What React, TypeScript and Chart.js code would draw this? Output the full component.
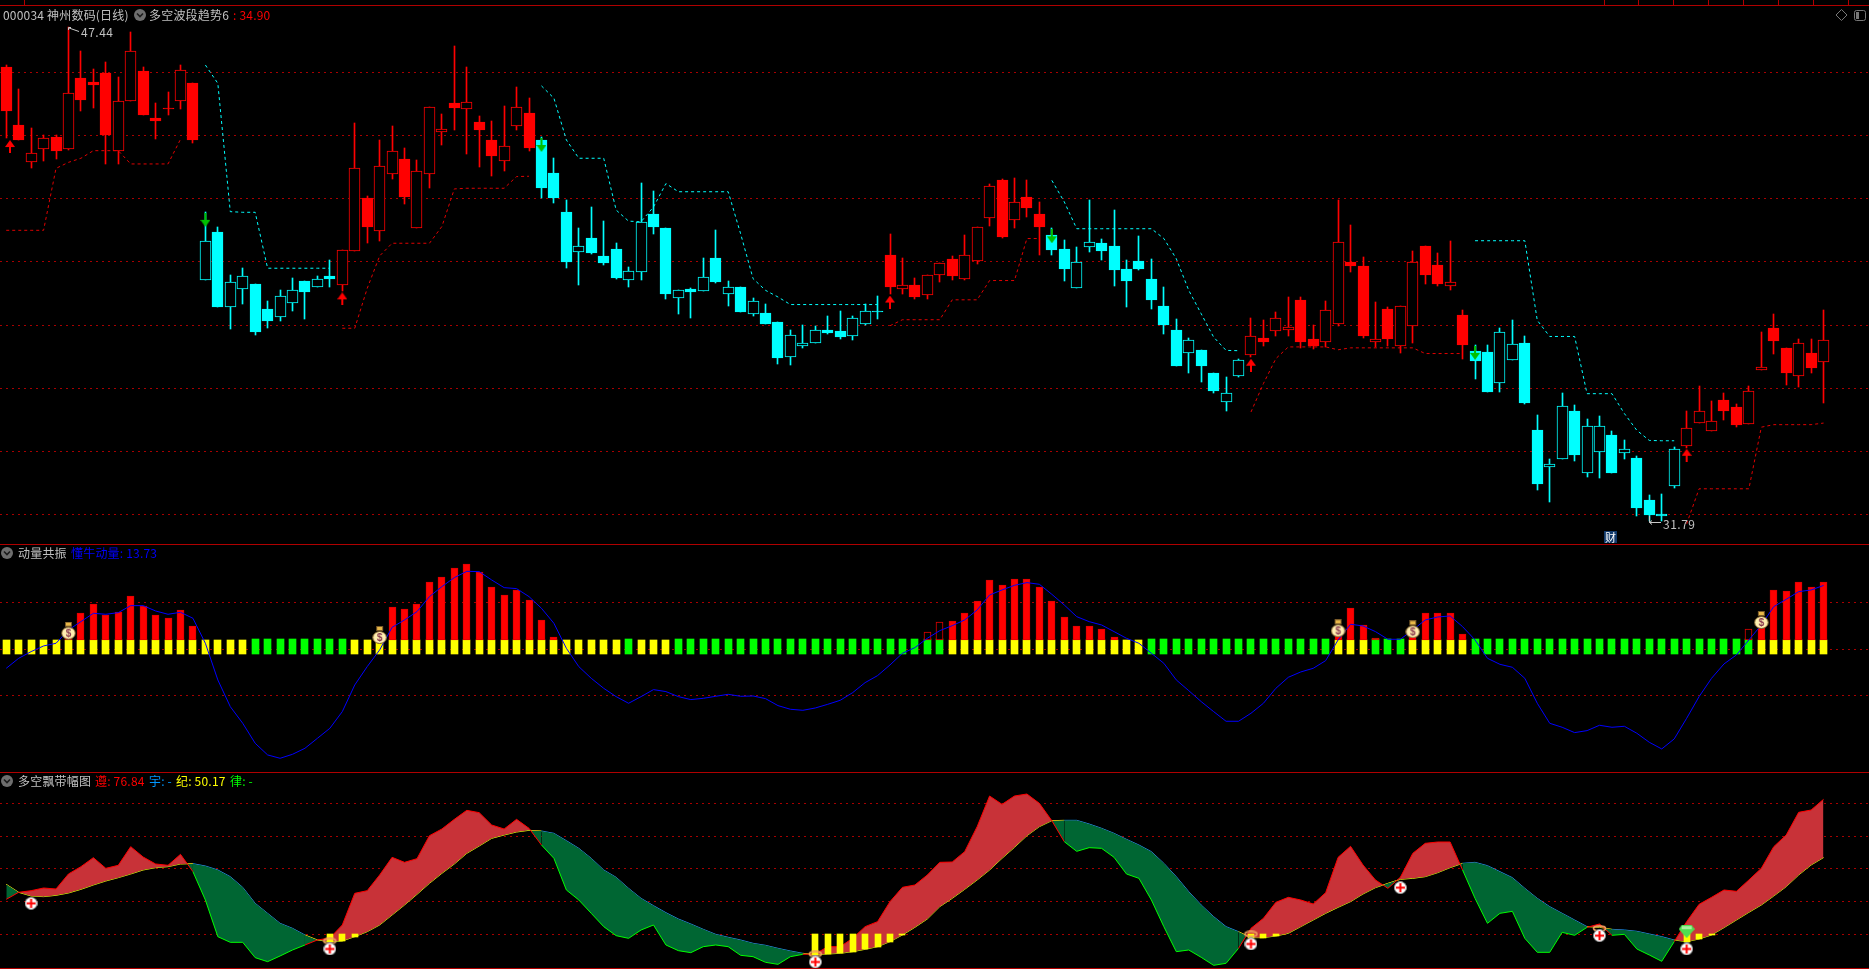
import React, { useEffect, useRef } from "react";
import { Chart, registerables } from "chart.js";

Chart.register(...registerables);

// ---------- price panel ----------
const highs = [46.23,45.47,44.23,44.02,44.02,47.44,46.68,46.09,46.33,45.85,47.28,46.17,45.03,45.38,46.23,45.66,41.58,41.10,39.59,39.81,39.30,38.76,39.11,39.49,39.40,39.55,40.06,40.37,44.40,42.09,43.86,44.30,43.61,43.23,44.89,44.68,46.83,46.17,44.62,44.46,44.93,45.54,45.19,43.95,43.29,41.96,41.07,41.74,41.30,40.60,39.83,42.49,42.23,41.06,39.10,39.16,40.11,41.00,39.38,39.19,38.85,38.66,38.09,37.86,37.99,37.96,38.28,38.44,38.28,38.66,38.91,40.87,40.11,39.48,39.57,39.95,40.18,40.84,41.09,42.45,42.61,42.64,42.58,41.88,41.06,40.68,40.46,41.95,40.71,41.63,40.05,40.81,40.08,39.19,38.18,37.58,37.20,36.47,36.35,36.92,38.21,38.15,38.43,38.88,38.88,37.99,38.75,41.95,41.16,40.14,38.72,38.56,38.62,40.33,40.49,40.27,40.65,38.47,37.36,37.36,37.90,38.15,37.64,35.14,33.75,35.84,35.46,35.02,35.11,34.64,34.35,33.85,32.61,32.67,34.13,35.27,36.06,35.59,35.84,35.49,36.06,37.77,38.34,37.26,37.55,37.55,38.47];
const lows = [43.91,43.87,42.98,43.19,43.26,43.54,44.76,44.88,43.11,43.11,45.10,44.65,43.89,44.65,44.84,43.76,39.44,38.58,37.89,38.68,37.70,37.91,38.13,38.46,38.19,39.19,39.21,39.08,40.36,40.60,40.66,42.62,41.83,41.08,42.34,43.70,44.18,43.42,43.00,42.72,42.88,44.18,43.51,42.02,41.86,39.81,39.27,40.25,39.90,39.46,39.19,39.42,40.87,38.82,38.34,38.21,39.07,39.32,38.62,38.40,38.28,38.02,36.76,36.73,37.26,37.42,37.71,37.55,37.52,37.99,38.18,38.97,38.97,38.82,38.82,39.35,39.42,39.42,39.92,41.13,40.75,41.06,41.41,40.21,40.21,39.38,39.16,40.30,40.05,39.23,38.56,39.73,38.50,37.71,36.69,36.50,36.19,35.84,35.27,36.35,36.99,37.33,37.67,37.67,37.26,37.23,37.30,37.96,39.67,37.58,37.30,37.33,37.11,37.42,39.29,39.23,39.10,36.92,36.28,35.87,35.87,36.88,35.49,32.77,32.39,33.75,33.69,33.18,33.15,33.31,33.75,31.95,31.79,31.80,32.83,34.10,34.89,34.64,34.99,34.76,34.86,36.57,37.07,36.12,36.03,36.47,35.55];
const opens = [46.17,44.33,43.17,43.58,43.95,43.58,45.82,45.69,45.98,43.50,45.10,46.04,44.55,44.87,45.10,45.66,39.44,40.95,38.58,39.15,39.30,38.51,38.27,38.71,39.40,39.19,39.55,39.28,40.36,42.02,40.99,42.79,43.26,41.08,42.79,44.12,45.03,44.85,44.43,43.86,43.19,44.30,44.71,43.86,42.81,41.58,40.31,40.76,40.19,40.41,39.42,39.67,41.51,41.06,38.85,39.13,39.07,40.11,38.97,39.19,38.34,38.37,38.09,36.98,37.33,37.42,37.83,37.80,37.64,38.02,38.44,40.21,39.13,39.26,38.94,39.57,40.08,39.45,40.02,41.38,42.58,41.32,42.04,41.51,40.84,40.40,39.16,40.46,40.59,40.49,39.76,40.02,39.45,38.59,37.86,37.11,37.20,36.47,35.56,36.38,37.04,37.58,37.80,37.83,38.78,37.55,37.45,38.05,39.99,39.86,37.45,38.50,37.33,37.96,40.49,39.89,39.23,38.31,37.17,37.14,36.16,36.88,37.42,34.67,33.50,33.75,35.27,33.31,33.97,34.51,33.94,33.78,32.48,32.01,32.90,34.19,34.89,34.64,35.62,35.40,34.86,36.57,37.90,37.26,36.38,37.11,36.82];
const closes = [44.76,43.87,43.44,43.91,43.51,45.34,45.13,45.60,44.02,45.08,46.66,44.65,44.46,44.84,46.06,43.87,40.65,38.58,39.35,39.54,37.78,38.13,38.91,39.10,39.05,39.45,39.46,40.37,42.96,41.10,43.03,43.50,42.05,42.87,44.89,44.21,44.87,45.05,44.18,43.35,43.66,44.89,43.61,42.34,42.02,40.00,40.49,40.28,39.97,39.49,39.70,41.25,41.09,38.97,39.10,39.04,39.51,39.35,39.19,38.40,38.75,38.05,36.95,37.68,37.42,37.83,37.74,37.61,38.21,38.44,38.40,39.19,39.26,38.88,39.57,39.95,39.54,40.21,41.09,42.39,40.78,41.88,41.69,41.09,40.37,39.76,39.99,40.62,40.33,39.73,39.38,39.76,38.78,37.99,36.69,37.52,36.69,35.90,35.84,36.88,37.67,37.45,38.21,37.93,37.45,37.33,38.47,40.62,39.86,37.67,37.55,37.55,38.62,39.99,39.57,39.29,39.35,37.36,36.85,35.87,37.77,37.39,35.55,32.96,33.59,35.43,33.88,34.80,34.80,33.31,34.07,32.20,31.98,31.96,34.07,34.73,35.27,34.95,35.27,34.83,35.90,36.66,37.49,36.47,37.42,36.63,37.52];
const trendFlips = [16, 27, 43, 71, 84, 100, 118, 135];
const n = null;
const redStop = [41.00,41.00,41.00,41.00,42.96,43.15,43.28,43.52,43.52,43.52,43.10,43.10,43.10,43.10,43.88,n,n,n,n,n,n,n,n,n,n,n,n,37.90,37.90,39.16,40.19,40.59,40.59,40.59,40.59,41.12,42.31,42.33,42.33,42.33,42.33,42.70,42.71,n,n,n,n,n,n,n,n,n,n,n,n,n,n,n,n,n,n,n,n,n,n,n,n,n,n,n,n,37.98,38.17,38.17,38.17,38.17,38.80,38.80,38.80,39.41,39.41,39.41,40.74,40.74,n,n,n,n,n,n,n,n,n,n,n,n,n,n,n,n,35.25,36.15,36.94,37.31,37.31,37.31,37.31,37.22,37.28,37.28,37.28,37.28,37.28,37.28,37.10,37.10,37.10,37.10,n,n,n,n,n,n,n,n,n,n,n,n,n,n,n,n,n,31.71,32.82,32.82,32.82,32.82,32.82,34.77,34.85,34.85,34.85,34.85,34.90];
const cyanStop = [n,n,n,n,n,n,n,n,n,n,n,n,n,n,n,n,46.23,45.65,41.59,41.57,41.57,39.80,39.80,39.80,39.80,39.80,39.80,n,n,n,n,n,n,n,n,n,n,n,n,n,n,n,n,45.57,45.18,43.86,43.28,43.28,43.28,41.64,41.29,41.27,41.74,42.48,42.22,42.22,42.22,42.22,42.22,40.89,39.47,39.10,38.89,38.65,38.65,38.65,38.65,38.65,38.65,38.65,38.65,n,n,n,n,n,n,n,n,n,n,n,n,n,42.58,41.90,41.05,41.05,41.05,41.05,41.05,41.05,41.05,40.74,40.10,39.10,38.36,37.62,37.20,37.19,n,n,n,n,n,n,n,n,n,n,n,n,n,n,n,n,n,n,40.67,40.67,40.67,40.67,40.67,38.15,37.64,37.64,37.64,35.83,35.83,35.83,35.20,34.67,34.35,34.34,34.34];
const priceGrid = [46, 44, 42, 40, 38, 36, 34, 32];
const upArrowX = [0.3, 27, 71, 100, 135];
const upArrowPrice = [43.65, 38.83, 38.73, 36.73, 33.88];
const downArrowX = [16, 43, 84, 118];
const downArrowPrice = [41.33, 43.70, 40.81, 37.12];

// ---------- momentum panel ----------
const momentumLine = [-4.09,-1.94,-0.50,0.72,1.29,4.16,5.95,7.74,7.53,7.88,9.39,9.39,8.24,7.53,7.96,6.67,1.29,-6.59,-12.33,-15.91,-20.21,-22.72,-23.44,-22.58,-21.29,-19.14,-16.99,-13.40,-7.67,-3.73,-0.14,4.73,6.31,8.10,11.33,13.48,15.41,16.77,16.70,14.91,13.26,13.05,11.33,8.82,5.59,0.22,-3.73,-6.24,-8.39,-10.18,-11.61,-10.18,-8.67,-9.10,-10.18,-10.82,-10.54,-10.11,-9.68,-10.11,-10.04,-10.61,-12.11,-12.90,-13.12,-12.62,-11.83,-10.97,-9.32,-7.17,-5.66,-3.37,-0.86,0.36,2.37,4.01,5.09,6.31,8.46,11.68,12.76,13.76,14.34,13.98,11.83,9.53,7.02,5.95,5.23,3.80,2.37,1.29,-0.86,-3.01,-6.59,-8.89,-11.25,-13.40,-15.48,-15.48,-13.76,-11.61,-8.39,-6.02,-4.87,-4.09,-2.44,2.01,5.38,5.02,3.80,2.15,2.15,4.16,6.31,6.95,7.17,4.87,2.01,-1.94,-3.23,-3.87,-6.24,-11.61,-15.91,-16.77,-17.92,-17.49,-16.34,-16.77,-16.56,-18.06,-20.00,-21.43,-19.28,-14.84,-10.18,-6.24,-3.15,-1.22,2.01,5.23,9.18,10.75,12.40,12.76,13.73];
const redBarIndex = [5,6,7,8,9,10,11,12,13,14,15,30,31,32,33,34,35,36,37,38,39,40,41,42,43,44,74,75,76,77,78,79,80,81,82,83,84,85,86,87,88,89,107,108,109,110,113,114,115,116,117,140,141,142,143,144,145,146];
const redBarValue = [3.08,7.81,9.75,7.38,8.03,11.47,9.32,7.38,6.74,8.46,5.02,3.08,9.10,8.67,9.75,14.48,15.56,17.49,18.35,16.63,13.41,11.68,12.76,10.61,6.31,2.65,3.66,5.81,6.09,7.81,10.39,14.91,13.84,15.13,15.13,13.41,10.39,6.95,5.02,5.02,4.37,2.65,2.87,8.89,5.16,2.44,2.65,7.81,7.81,7.81,3.30,4.30,4.87,12.76,12.54,14.48,13.41,14.48];
const hollowRedBars = [74, 75, 140];
const greenRuns = [[20, 27], [50, 50], [54, 75], [92, 106], [110, 112], [118, 140]];
const stateBarBase = -1;
const stateBarTop = 2;
const stateBarGreenTop = 2.2;
const momentumGrid = [10, 0, -10];
const bagX = [5, 30, 107, 113, 141];
const bagY = [4.01, 3.08, 4.52, 4.30, 6.31];

// ---------- ribbon panel ----------
const fastLine = [31.03,34.24,35.00,36.22,35.77,42.64,46.00,50.12,45.23,46.61,55.16,50.42,47.22,46.61,51.64,43.71,30.73,13.93,11.34,11.34,4.32,2.48,5.08,7.83,10.12,12.41,13.32,19.28,33.78,35.00,42.18,50.27,47.98,49.66,60.19,63.25,67.67,71.80,70.73,65.08,63.25,67.67,63.55,55.92,49.81,35.31,30.73,24.62,18.52,14.39,13.17,16.99,19.28,10.12,7.52,6.61,9.35,10.12,9.35,5.39,4.77,2.18,1.26,4.77,5.84,6.00,9.35,9.35,13.17,18.52,20.81,29.97,36.53,37.60,42.18,47.98,48.13,52.87,64.32,78.36,74.54,78.36,79.28,75.00,67.06,57.45,53.02,54.70,54.39,50.27,42.64,40.65,30.73,18.52,7.06,7.83,4.47,0.81,1.72,8.59,17.75,22.33,29.66,31.95,30.73,28.90,34.09,50.27,55.31,46.76,39.89,36.07,41.11,52.10,56.68,57.29,57.29,44.47,31.49,20.04,24.62,25.54,13.17,6.76,6.76,15.92,14.55,18.21,19.74,14.55,15.00,8.29,5.54,2.64,11.64,20.81,28.74,31.95,35.31,34.70,39.89,45.23,55.16,60.50,70.88,71.95,76.84];
const slowLine = [37.90,34.24,32.56,32.26,32.87,33.93,35.61,37.60,39.43,40.96,42.64,44.47,45.54,46.00,47.22,47.37,46.30,44.47,41.42,36.53,29.20,24.62,20.04,17.75,14.70,12.41,11.64,11.95,13.93,16.22,19.28,23.86,28.44,33.32,38.36,42.94,47.22,52.10,55.46,58.97,60.50,61.87,62.64,62.33,61.26,57.90,54.39,49.81,44.47,41.11,36.07,31.49,28.13,24.93,22.03,19.74,17.29,15.00,13.63,12.41,10.88,9.97,8.59,7.37,6.30,5.69,6.00,6.30,7.06,8.13,9.35,11.64,14.70,18.21,22.03,27.68,31.49,35.61,39.89,44.47,49.81,54.85,60.19,64.32,67.06,67.22,67.22,65.54,63.55,61.26,58.51,55.92,52.87,47.52,41.42,34.55,28.44,23.10,18.52,16.22,13.48,13.48,14.24,15.46,18.52,21.57,24.62,27.37,29.97,33.48,36.38,38.36,40.19,40.65,41.42,43.25,45.54,47.52,47.98,46.45,43.71,40.96,36.07,31.49,27.68,24.62,21.57,18.52,18.21,17.29,16.99,16.38,15.16,13.93,12.41,11.64,12.87,14.70,18.06,21.57,25.08,28.44,32.56,36.84,42.18,46.76,50.17];
const stickIndex = [26,27,28,65,66,67,68,69,70,71,72,100,101,102,135,136,137];
const stickTop = 15;
const ribbonGrid = [75, 60, 45, 30, 15];
const crossX = [2, 26, 65, 100, 112, 128, 135];
const crossY = [29.20, 8.29, 2.33, 10.58, 36.38, 14.39, 8.29];
const haloX = [26, 65, 100, 128];
const haloY = [11.95, 6.00, 15.16, 17.75];
const gemX = [135];
const gemY = [16.22];

// ---------- text ----------
const stockTitle = "000034 神州数码(日线)";
const trendTitle = "多空波段趋势6";
const trendValue = ": 34.90";
const momentumTitle = "动量共振";
const momentumValue = "懂牛动量: 13.73";
const ribbonTitle = "多空飘带幅图";
const highLabel = "47.44";
const lowLabel = "31.79";
const newsMark = "财";
const topSeparators = [24, 1604, 1638, 1673, 1708, 1743, 1778, 1813, 1848];

const RED = "#ff0000";
const CYAN = "#00ffff";
const LINE_RED = "#b00000";
const GRID_RED = "#a80000";
const W = 1869;
const FONT = '"Noto Sans CJK SC", "Noto Sans", sans-serif';

const isFlippedCyan = (i: number) => trendFlips.filter((f) => f <= i).length % 2 === 1;
const isGreenState = (i: number) => greenRuns.some(([a, b]) => i >= a && i <= b);
const xs = (vals: any[]) => vals.map((y, x) => ({ x, y }));
const zip = (a: number[], b: number[]) => a.map((x, i) => ({ x, y: b[i] }));

function sprite(w: number, h: number, draw: (c: CanvasRenderingContext2D) => void) {
  const cv = document.createElement("canvas");
  cv.width = w;
  cv.height = h;
  draw(cv.getContext("2d") as CanvasRenderingContext2D);
  return cv;
}

const arrowUp = () =>
  sprite(10, 13, (c) => {
    c.fillStyle = RED;
    c.beginPath();
    c.moveTo(5, 0);
    c.lineTo(10, 7);
    c.lineTo(0, 7);
    c.fill();
    c.fillRect(4, 7, 2, 6);
  });
const arrowDown = () =>
  sprite(10, 14, (c) => {
    c.fillStyle = "#00c000";
    c.fillRect(4, 0, 2, 8);
    c.beginPath();
    c.moveTo(0, 7);
    c.lineTo(10, 7);
    c.lineTo(5, 14);
    c.fill();
  });
const moneyBag = () =>
  sprite(15, 18, (c) => {
    c.fillStyle = "#ffeeb0";
    c.strokeStyle = "#7a5a28";
    c.beginPath();
    c.ellipse(7.5, 11.5, 6.8, 6, 0, 0, Math.PI * 2);
    c.fill();
    c.stroke();
    c.fillStyle = "#e8b848";
    c.fillRect(4.5, 0.5, 6, 4);
    c.strokeRect(4.5, 0.5, 6, 4);
    c.fillStyle = "#8a3a50";
    c.font = 'bold 10px "Liberation Sans"';
    c.textAlign = "center";
    c.textBaseline = "middle";
    c.fillText("$", 7.5, 12);
  });
const crossCoin = () =>
  sprite(13, 13, (c) => {
    c.fillStyle = "#ffffff";
    c.strokeStyle = "#909090";
    c.beginPath();
    c.arc(6.5, 6.5, 6, 0, Math.PI * 2);
    c.fill();
    c.stroke();
    c.fillStyle = "#ff0000";
    c.fillRect(5.5, 2, 2, 9);
    c.fillRect(2, 5.5, 9, 2);
  });
const halo = () =>
  sprite(15, 7, (c) => {
    c.strokeStyle = "#f0a060";
    c.lineWidth = 1.6;
    c.beginPath();
    c.ellipse(7.5, 3.5, 6, 2.4, 0, 0, Math.PI * 2);
    c.stroke();
  });
const gem = () =>
  sprite(16, 13, (c) => {
    c.fillStyle = "#50e050";
    c.beginPath();
    c.moveTo(3, 0);
    c.lineTo(13, 0);
    c.lineTo(16, 4);
    c.lineTo(8, 13);
    c.lineTo(0, 4);
    c.fill();
    c.fillStyle = "#a8f0a0";
    c.fillRect(3, 1, 10, 3);
  });

// Snap bars to whole pixels so that they stay as crisp as the terminal's.
const crispBars = {
  id: "crispBars",
  afterDatasetsUpdate(chart: any) {
    chart.getSortedVisibleDatasetMetas().forEach((meta: any) => {
      if (meta.type !== "bar") return;
      meta.data.forEach((el: any) => {
        const odd = Math.round(el.width) % 2 === 1;
        el.x = odd ? Math.floor(el.x) + 0.5 : Math.round(el.x);
        el.y = Math.round(el.y);
        el.base = Math.round(el.base);
        if (el.y === el.base) el.base = el.y + 1;
        el.height = el.base - el.y;
      });
    });
  },
};

const priceLabels = {
  id: "priceLabels",
  afterDatasetsDraw(chart: any) {
    const { ctx, scales } = chart;
    const mark = (i: number, price: number, text: string, isHigh: boolean) => {
      const px = Math.round(scales.x.getPixelForValue(i));
      const py = Math.round(scales.y.getPixelForValue(price));
      ctx.save();
      ctx.strokeStyle = "#c8c8c8";
      ctx.fillStyle = "#c0c0c0";
      ctx.lineWidth = 1;
      ctx.beginPath();
      if (isHigh) {
        ctx.moveTo(px + 0.5, py + 3);
        ctx.lineTo(px + 0.5, py + 0.5);
        ctx.lineTo(px + 3, py + 0.5);
        ctx.moveTo(px + 1, py + 1);
        ctx.lineTo(px + 11, py + 4.5);
      } else {
        ctx.moveTo(px + 0.5, py - 5);
        ctx.lineTo(px + 0.5, py + 1.5);
        ctx.lineTo(px + 12, py + 1.5);
        ctx.moveTo(px + 3, py - 0.5);
        ctx.lineTo(px + 0.5, py + 1.5);
        ctx.lineTo(px + 3, py + 3.5);
      }
      ctx.stroke();
      ctx.font = `12px ${FONT}`;
      ctx.letterSpacing = "0.5px";
      ctx.textBaseline = "middle";
      ctx.fillText(text, px + (isHigh ? 13 : 14), py + (isHigh ? 5 : 3));
      ctx.restore();
    };
    mark(5, 47.44, highLabel, true);
    mark(132, 31.79, lowLabel, false);
  },
};

function buildChart(
  canvas: HTMLCanvasElement,
  datasets: any[],
  yMin: number,
  yMax: number,
  grid: number[],
  plugins: any[] = []
) {
  return new Chart(canvas, {
    type: "bar",
    data: { datasets },
    plugins: [crispBars, ...plugins],
    options: {
      animation: false,
      responsive: false,
      devicePixelRatio: 1,
      events: [],
      layout: { padding: 0, autoPadding: false },
      plugins: { legend: { display: false }, tooltip: { enabled: false }, title: { display: false } },
      scales: {
        x: { type: "linear", display: false, offset: false, min: -0.5, max: 149.65 },
        y: {
          type: "linear",
          min: yMin,
          max: yMax,
          ticks: { display: false },
          border: { display: false, dash: [2, 4] },
          grid: { color: GRID_RED, drawTicks: false, lineWidth: 1 },
          afterBuildTicks: (s: any) => {
            s.ticks = grid.map((value) => ({ value }));
          },
          afterFit: (s: any) => {
            s.width = 0;
          },
        },
      },
    } as any,
  } as any);
}

const line = (data: any[], color: string, extra: any = {}) => ({
  type: "line",
  data,
  borderColor: color,
  borderWidth: 1,
  pointRadius: 0,
  tension: 0,
  fill: false,
  ...extra,
});
const marks = (data: any[], style: any, order: number) => ({
  type: "line",
  data,
  showLine: false,
  pointStyle: style,
  pointRadius: 6,
  order,
});

function Chevron({ left, top }: { left: number; top: number }) {
  return (
    <svg style={{ position: "absolute", left, top }} width="12" height="12">
      <circle cx="6" cy="6" r="6" fill="#6e6e6e" />
      <path d="M3 4.5 L6 7.5 L9 4.5" stroke="#1c1c1c" strokeWidth="1.6" fill="none" />
    </svg>
  );
}

function Label({ left, top, color, children }: any) {
  return (
    <span
      style={{
        position: "absolute",
        left,
        top,
        color,
        font: `12px/16px ${FONT}`,
        letterSpacing: "0.2px",
        whiteSpace: "pre",
      }}
    >
      {children}
    </span>
  );
}

const Rule = ({ y }: { y: number }) => (
  <div style={{ position: "absolute", left: 0, top: y, width: W, height: 1, background: LINE_RED }} />
);

export default function App() {
  const priceRef = useRef<HTMLCanvasElement>(null);
  const momentumRef = useRef<HTMLCanvasElement>(null);
  const ribbonRef = useRef<HTMLCanvasElement>(null);

  useEffect(() => {
    document.body.style.margin = "0";
    document.body.style.background = "#000";

    const trendColors = highs.map((_, i) => (isFlippedCyan(i) ? CYAN : RED));
    const price = buildChart(
      priceRef.current as HTMLCanvasElement,
      [
        marks(zip(upArrowX, upArrowPrice), arrowUp(), 1),
        marks(zip(downArrowX, downArrowPrice), arrowDown(), 1),
        line(xs(redStop), "#e00000", { borderDash: [3, 3], order: 2 }),
        line(xs(cyanStop), CYAN, { borderDash: [3, 3], order: 2 }),
        {
          type: "bar",
          data: highs.map((_, i) => ({ x: i, y: [Math.min(opens[i], closes[i]), Math.max(opens[i], closes[i])] })),
          barThickness: 11,
          grouped: false,
          borderWidth: 1,
          borderSkipped: false,
          borderColor: trendColors,
          backgroundColor: highs.map((_, i) => (closes[i] >= opens[i] ? "#000000" : trendColors[i])),
          order: 3,
        },
        {
          type: "bar",
          data: highs.map((h, i) => ({ x: i, y: [lows[i], h] })),
          barThickness: 1,
          grouped: false,
          backgroundColor: trendColors,
          order: 4,
        },
      ],
      31.073,
      48.098,
      priceGrid,
      [priceLabels]
    );

    const momentum = buildChart(
      momentumRef.current as HTMLCanvasElement,
      [
        marks(zip(bagX, bagY), moneyBag(), 1),
        line(xs(momentumLine), "#0000ff", { order: 2 }),
        {
          type: "bar",
          data: redBarIndex.map((x, i) => ({ x, y: [stateBarTop, redBarValue[i]] })),
          barThickness: 7,
          grouped: false,
          borderWidth: 1,
          borderSkipped: false,
          borderColor: "#e00000",
          backgroundColor: redBarIndex.map((x) => (hollowRedBars.includes(x) ? "#000000" : RED)),
          order: 3,
        },
        {
          type: "bar",
          data: highs.map((_, i) => ({
            x: i,
            y: [stateBarBase, isGreenState(i) ? stateBarGreenTop : stateBarTop],
          })),
          barThickness: 7,
          grouped: false,
          backgroundColor: highs.map((_, i) => (isGreenState(i) ? "#00ff00" : "#ffff00")),
          order: 4,
        },
      ],
      -26.39,
      22.43,
      momentumGrid
    );

    const isAbove = (i: number) => fastLine[i] >= slowLine[i];
    const fastAbove = (c: any) => isAbove(c.p0DataIndex) || isAbove(c.p1DataIndex);
    const ribbon = buildChart(
      ribbonRef.current as HTMLCanvasElement,
      [
        marks(zip(crossX, crossY), crossCoin(), 1),
        marks(zip(haloX, haloY), halo(), 1),
        marks(zip(gemX, gemY), gem(), 1),
        {
          type: "bar",
          data: stickIndex.map((x) => ({ x, y: [slowLine[x], stickTop] })),
          barThickness: 6,
          grouped: false,
          backgroundColor: "#ffff00",
          order: 2,
        },
        line(xs(fastLine), RED, {
          order: 3,
          fill: { target: "+1", above: "#c83238", below: "#006633" },
          segment: { borderColor: (c: any) => (fastAbove(c) ? RED : "#00ff00") },
        }),
        line(xs(slowLine), "#ffff00", {
          order: 3,
          segment: { borderColor: (c: any) => (fastAbove(c) ? "#ffff00" : "#0096ff") },
        }),
      ],
      -0.42,
      88.9,
      ribbonGrid
    );

    return () => {
      price.destroy();
      momentum.destroy();
      ribbon.destroy();
    };
  }, []);

  const cv = (top: number): React.CSSProperties => ({ position: "absolute", left: 0, top, display: "block" });

  return (
    <div style={{ position: "absolute", left: 0, top: 0, width: W, height: 969, background: "#000", overflow: "hidden" }}>
      <canvas ref={priceRef} width={W} height={538} style={cv(6)} />
      <canvas ref={momentumRef} width={W} height={227} style={cv(545)} />
      <canvas ref={ribbonRef} width={W} height={195} style={cv(773)} />

      <Rule y={5} />
      <Rule y={544} />
      <Rule y={772} />
      <Rule y={968} />
      {topSeparators.map((x) => (
        <div key={x} style={{ position: "absolute", left: x, top: 0, width: 1, height: 5, background: LINE_RED }} />
      ))}

      <Label left={3} top={7} color="#c0c0c0">{stockTitle}</Label>
      <Chevron left={134} top={9} />
      <Label left={149} top={7} color="#c0c0c0">{trendTitle}</Label>
      <Label left={233} top={7} color={RED}>{trendValue}</Label>

      <Chevron left={1} top={547} />
      <Label left={18} top={545} color="#c0c0c0">{momentumTitle}</Label>
      <Label left={71} top={545} color="#0000ff">{momentumValue}</Label>

      <Chevron left={1} top={775} />
      <Label left={18} top={773} color="#c0c0c0">{ribbonTitle}</Label>
      <Label left={95} top={773} color={RED}>遵: 76.84</Label>
      <Label left={149} top={773} color="#0096ff">宇: -</Label>
      <Label left={176} top={773} color="#ffff00">纪: 50.17</Label>
      <Label left={230} top={773} color="#00ff00">律: -</Label>

      <div
        style={{
          position: "absolute",
          left: 1604,
          top: 531,
          width: 13,
          height: 12,
          background: "#123a6b",
          color: "#fff",
          font: `11px/12px ${FONT}`,
          textAlign: "center",
        }}
      >
        {newsMark}
      </div>

      <svg style={{ position: "absolute", left: 1835, top: 8 }} width="34" height="15">
        <path d="M6.5 1.5 L12 7 L6.5 12.5 L1 7 Z" fill="none" stroke="#777" />
        <rect x="19.5" y="2.5" width="11" height="10" rx="2" fill="none" stroke="#777" />
        <rect x="21" y="4" width="3" height="7" fill="#777" />
      </svg>
    </div>
  );
}
